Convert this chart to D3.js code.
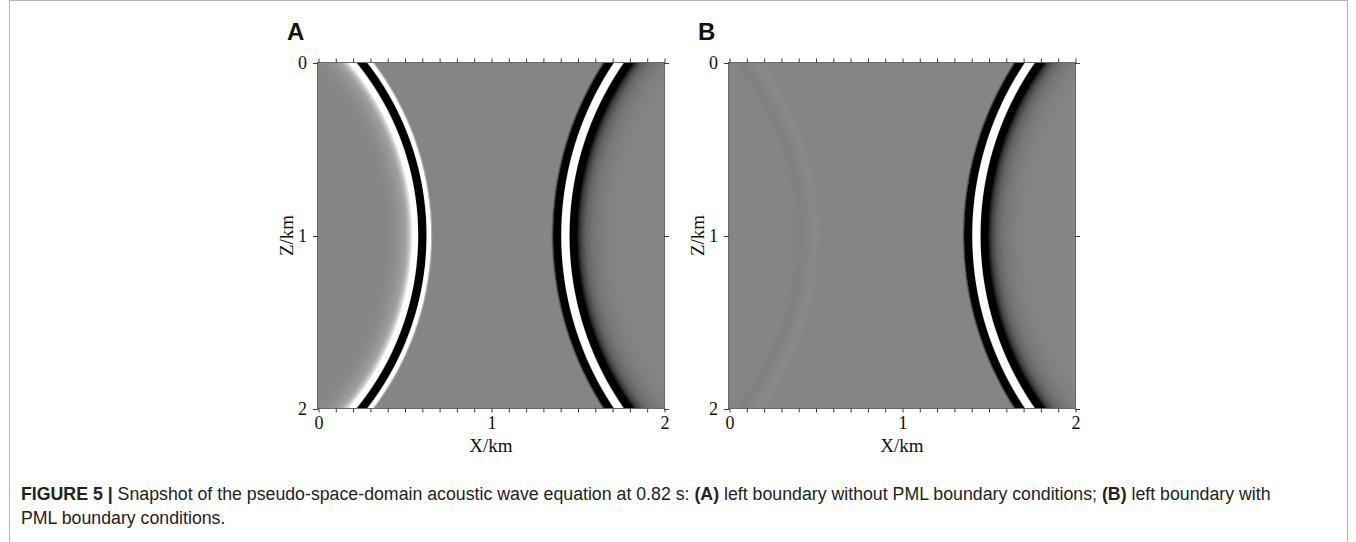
<!DOCTYPE html>
<html>
<head>
<meta charset="utf-8">
<script src="https://cdn.jsdelivr.net/npm/d3@7"></script>
<style>
  body { margin: 0; background: #fff; }
  svg { display: block; }
</style>
</head>
<body>
<svg id="fig" width="1356" height="542"></svg>
<script>
// ---------------- data ----------------
const panelIds = ["A", "B"];
const xDomain = [0, 2];            // X/km
const zDomain = [0, 2];            // Z/km
const majorTicks = [0, 1, 2];
const majorTickLabels = ["0", "1", "2"];
const minorTicks = [0, 0.1, 0.2, 0.3, 0.4, 0.5, 0.6, 0.7, 0.8, 0.9, 1,
                    1.1, 1.2, 1.3, 1.4, 1.5, 1.6, 1.7, 1.8, 1.9, 2];

// wavefronts (circular arcs): centre x, centre z, radius (km)
const frontNames   = ["direct", "reflected", "ghost"];
const frontCenterX = [3.198, -0.999, -1.185];
const frontCenterZ = [1, 1, 1];
const frontRadius  = [1.768, 1.604, 1.64];
// gain of each wavefront in each panel
const panelAGain = [1, 1, 0];
const panelBGain = [1, 0, 1];

// wavelet profiles across the front: offset from radius (km, outward +) -> amplitude
const directOffset    = [-0.3, -0.22, -0.16, -0.12, -0.09, -0.07, -0.062, -0.03, -0.024, -0.018, 0.018, 0.024, 0.03, 0.064, 0.07, 0.082];
const directAmp       = [0, -0.04, -0.12, -0.25, -0.5, -0.85, -2, -2, 0, 2, 2, 0, -2, -2, -0.6, 0];
const reflectedOffset = [-0.24, -0.18, -0.14, -0.1, -0.08, -0.062, -0.048, -0.032, -0.026, -0.02, 0.017, 0.022, 0.028, 0.042, 0.048, 0.058];
const reflectedAmp    = [0, 0.03, 0.1, 0.22, 0.45, 0.85, 2, 2, 0, -2, -2, 0, 2, 2, 0.6, 0];
const ghostOffset     = [-0.08, -0.04, 0, 0.04, 0.08];
const ghostAmp        = [0, -0.04, 0, 0.04, 0];

const captionParts = [
  { text: "FIGURE 5 |", bold: true },
  { text: " Snapshot of the pseudo-space-domain acoustic wave equation at 0.82 s: ", bold: false },
  { text: "(A)", bold: true },
  { text: " left boundary without PML boundary conditions; ", bold: false },
  { text: "(B)", bold: true },
  { text: " left boundary with", bold: false }
];
const captionLine2 = "PML boundary conditions.";

// ---------------- layout ----------------
const layout = {
  plotTop: 62.5, plotSize: 346,
  plotLeft: { A: 318, B: 729 },
  captionX: 21, captionY: 500, captionLead: 24,
  captionWidth1: 1250,
  serif: "'Liberation Serif','Times New Roman',serif",
  sans: "'Liberation Sans',Arial,Helvetica,sans-serif"
};

const svg = d3.select("#fig");

// outer figure frame
svg.append("rect").attr("x", 9.5).attr("y", 0.5).attr("width", 1338).attr("height", 560)
  .attr("fill", "none").attr("stroke", "#b5b5b5").attr("stroke-width", 1);

const profiles = {
  direct: d3.scaleLinear().domain(directOffset).range(directAmp).clamp(true),
  reflected: d3.scaleLinear().domain(reflectedOffset).range(reflectedAmp).clamp(true),
  ghost: d3.scaleLinear().domain(ghostOffset).range(ghostAmp).clamp(true)
};
const grayScale = d3.scaleLinear().domain([-1, 0, 1]).range([0, 133, 255]).clamp(true);

panelIds.forEach((id, pi) => {
  const gains = pi === 0 ? panelAGain : panelBGain;
  const left = layout.plotLeft[id], top = layout.plotTop, size = layout.plotSize;
  const x = d3.scaleLinear().domain(xDomain).range([left, left + size]);
  const z = d3.scaleLinear().domain(zDomain).range([top, top + size]);

  // raster of the wavefield
  const cw = size, ch = size;
  const canvas = document.createElement("canvas");
  canvas.width = cw; canvas.height = ch;
  const ctx = canvas.getContext("2d");
  const img = ctx.createImageData(cw, ch);
  const px = d3.scaleLinear().domain([0, cw]).range(xDomain);
  const pz = d3.scaleLinear().domain([0, ch]).range(zDomain);
  for (let j = 0; j < ch; j++) {
    const zz = pz(j + 0.5);
    for (let i = 0; i < cw; i++) {
      const xx = px(i + 0.5);
      let v = 0;
      frontNames.forEach((name, k) => {
        if (!gains[k]) return;
        const d = Math.hypot(xx - frontCenterX[k], zz - frontCenterZ[k]) - frontRadius[k];
        v += gains[k] * profiles[name](d);
      });
      const g = Math.round(grayScale(v));
      const o = (j * cw + i) * 4;
      img.data[o] = g; img.data[o + 1] = g; img.data[o + 2] = g; img.data[o + 3] = 255;
    }
  }
  ctx.putImageData(img, 0, 0);
  svg.append("image")
    .attr("x", left).attr("y", top).attr("width", size).attr("height", size)
    .attr("preserveAspectRatio", "none")
    .attr("href", canvas.toDataURL());

  // frame
  svg.append("rect").attr("x", left - 0.5).attr("y", top).attr("width", size + 1).attr("height", size)
    .attr("fill", "none").attr("stroke", "#6a6a6a").attr("stroke-width", 1);

  const fmt = d => { const k = majorTicks.indexOf(Math.round(d * 10) / 10); return k >= 0 ? majorTickLabels[k] : ""; };

  const styleAxis = g => {
    g.select(".domain").remove();
    g.selectAll("line").attr("stroke", "#3a3a3a").attr("stroke-width", 1);
    g.selectAll("text").attr("font-family", layout.serif).attr("font-size", 18).attr("fill", "#111");
  };

  svg.append("g").attr("transform", `translate(0.5,${top})`)
    .call(d3.axisTop(x).tickValues(minorTicks).tickSize(4).tickSizeOuter(0).tickFormat(""))
    .call(styleAxis);
  svg.append("g").attr("transform", `translate(0.5,${top + size})`)
    .call(d3.axisBottom(x).tickValues(minorTicks).tickSize(4).tickSizeOuter(0).tickPadding(4).tickFormat(fmt))
    .call(styleAxis);
  svg.append("g").attr("transform", `translate(${left},0.5)`)
    .call(d3.axisLeft(z).tickValues(majorTicks).tickSize(5).tickSizeOuter(0).tickPadding(6).tickFormat((d, i) => majorTickLabels[i]))
    .call(styleAxis);
  svg.append("g").attr("transform", `translate(${left + size},0.5)`)
    .call(d3.axisRight(z).tickValues(majorTicks).tickSize(5).tickSizeOuter(0).tickFormat(""))
    .call(styleAxis);

  // axis titles
  svg.append("text").attr("x", left + size / 2).attr("y", top + size + 43)
    .attr("text-anchor", "middle").attr("font-family", layout.serif).attr("font-size", 19)
    .attr("fill", "#111").text("X/km");
  svg.append("text").attr("transform", `translate(${left - 25},${top + size / 2}) rotate(-90)`)
    .attr("text-anchor", "middle").attr("font-family", layout.serif).attr("font-size", 19)
    .attr("fill", "#111").text("Z/km");

  // panel letter
  svg.append("text").attr("x", left - 31).attr("y", 40)
    .attr("font-family", layout.sans).attr("font-weight", "bold").attr("font-size", 24)
    .attr("fill", "#111").text(id);
});

// caption (narrow face emulated by one horizontal scale for both lines)
const capG = svg.append("g");
const cap1 = capG.append("text").attr("x", 0).attr("y", 0)
  .attr("font-family", layout.sans).attr("font-size", 19).attr("fill", "#222");
captionParts.forEach(p => cap1.append("tspan").attr("font-weight", p.bold ? "bold" : null).text(p.text));
capG.append("text").attr("x", 0).attr("y", layout.captionLead)
  .attr("font-family", layout.sans).attr("font-size", 19).attr("fill", "#222").text(captionLine2);
const sx = layout.captionWidth1 / cap1.node().getComputedTextLength();
capG.attr("transform", `translate(${layout.captionX},${layout.captionY}) scale(${sx},1)`);
</script>
</body>
</html>
